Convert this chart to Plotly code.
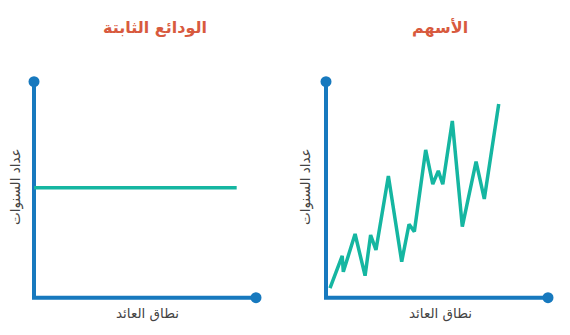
import plotly.graph_objects as go

# Data
titles = ["الودائع الثابتة", "الأسهم"]
x_label = "نطاق العائد"
y_label = "عداد السنوات"

X_MAX = 10
Y_MAX = 10

deposit_x = [0, 9.13]
deposit_y = [5.09, 5.09]

stock_x = [0.18, 0.73, 0.78, 1.31, 1.76, 2.01, 2.25, 2.81, 3.41, 3.74, 3.98,
           4.49, 4.81, 5.06, 5.26, 5.69, 6.14, 6.76, 7.13, 7.78]
stock_y = [0.44, 1.94, 1.20, 2.95, 1.02, 2.90, 2.21, 5.63, 1.67, 3.40, 3.06,
           6.84, 5.26, 5.87, 5.25, 8.18, 3.29, 6.30, 4.57, 8.97]

AXIS_COLOR = "#1779be"
LINE_COLOR = "#15b6a1"
TITLE_COLOR = "#d85a3e"
TEXT_COLOR = "#444444"
FONT = "DejaVu Sans"

W, H = 570, 335
PAD = 0.4  # data units of padding so lines at 0 aren't clipped

# pixel geometry of the 0..MAX region
y_bot_px, y_top_px = 297.7, 81.7
x_px = [(34, 256), (326, 548)]
ppu_y = (y_bot_px - y_top_px) / Y_MAX
y_dom = [1 - (y_bot_px + PAD * ppu_y) / H, 1 - (y_top_px - PAD * ppu_y) / H]
x_doms = []
for a, b in x_px:
    ppu_x = (b - a) / X_MAX
    x_doms.append([(a - PAD * ppu_x) / W, (b + PAD * ppu_x) / W])

fig = go.Figure()

series = [(deposit_x, deposit_y), (stock_x, stock_y)]
for i, (sx, sy) in enumerate(series):
    xa = "x" if i == 0 else "x2"
    ya = "y" if i == 0 else "y2"
    # axis frame
    fig.add_trace(go.Scatter(
        x=[0, 0, X_MAX], y=[Y_MAX, 0, 0], mode="lines",
        line=dict(color=AXIS_COLOR, width=4),
        xaxis=xa, yaxis=ya, cliponaxis=False, hoverinfo="skip",
        showlegend=False))
    fig.add_trace(go.Scatter(
        x=[0, X_MAX], y=[Y_MAX, 0], mode="markers",
        marker=dict(size=11, color=AXIS_COLOR, line=dict(width=0)),
        xaxis=xa, yaxis=ya, cliponaxis=False, hoverinfo="skip",
        showlegend=False))
    fig.add_trace(go.Scatter(
        x=sx, y=sy, mode="lines",
        line=dict(color=LINE_COLOR, width=3.5),
        xaxis=xa, yaxis=ya, cliponaxis=False, showlegend=False))

ax_common = dict(showgrid=False, zeroline=False, showticklabels=False,
                 ticks="", showline=False, fixedrange=True)
fig.update_layout(
    template="none",
    width=W, height=H,
    margin=dict(l=0, r=0, t=0, b=0),
    paper_bgcolor="white", plot_bgcolor="white",
    xaxis=dict(domain=x_doms[0], range=[-PAD, X_MAX + PAD], anchor="y", **ax_common),
    yaxis=dict(domain=y_dom, range=[-PAD, Y_MAX + PAD], anchor="x", **ax_common),
    xaxis2=dict(domain=x_doms[1], range=[-PAD, X_MAX + PAD], anchor="y2", **ax_common),
    yaxis2=dict(domain=y_dom, range=[-PAD, Y_MAX + PAD], anchor="x2", **ax_common),
    font=dict(family=FONT, color=TEXT_COLOR),
    showlegend=False,
)

title_x = [155, 440]
xlab_x = [148, 440]
ylab_x = [15, 305]
ann = []
for i in range(2):
    ann.append(dict(x=title_x[i] / W, y=1 - 28 / H, xref="paper", yref="paper",
                    text="<b>" + titles[i] + "</b>", showarrow=False,
                    font=dict(size=16, color=TITLE_COLOR, family=FONT),
                    xanchor="center", yanchor="middle"))
    ann.append(dict(x=xlab_x[i] / W, y=1 - 313 / H, xref="paper", yref="paper",
                    text=x_label, showarrow=False,
                    font=dict(size=13.5, color=TEXT_COLOR, family=FONT),
                    xanchor="center", yanchor="middle"))
    ann.append(dict(x=ylab_x[i] / W, y=1 - 187 / H, xref="paper", yref="paper",
                    text=y_label, showarrow=False, textangle=-90,
                    font=dict(size=13.5, color=TEXT_COLOR, family=FONT),
                    xanchor="center", yanchor="middle"))
fig.update_layout(annotations=ann)

fig.write_html("out.html", config={"displayModeBar": False})
